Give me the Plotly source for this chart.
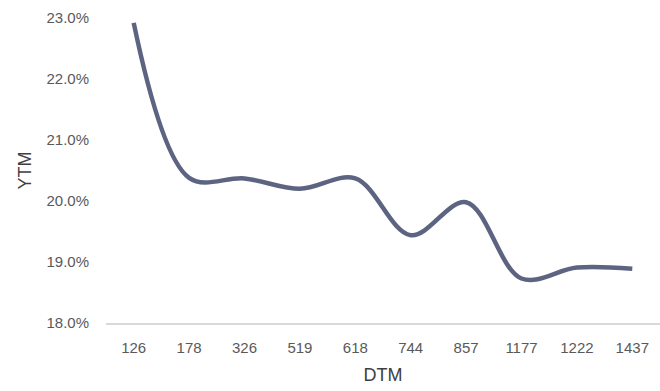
import plotly.graph_objects as go

# Days to maturity (categorical) and yield to maturity (%)
dtm = ["126", "178", "326", "519", "618", "744", "857", "1177", "1222", "1437"]
ytm = [22.92, 20.38, 20.37, 20.20, 20.37, 19.44, 19.98, 18.73, 18.91, 18.89]

y_ticks = [18, 19, 20, 21, 22, 23]
y_tick_labels = ["18.0%", "19.0%", "20.0%", "21.0%", "22.0%", "23.0%"]

font_family = "Liberation Sans, Arial, sans-serif"

fig = go.Figure(
    go.Scatter(
        x=dtm,
        y=ytm,
        mode="lines",
        line=dict(color="#5c6482", width=4.5, shape="spline", smoothing=1.0),
        showlegend=False,
    )
)

fig.update_layout(
    width=660,
    height=391,
    margin=dict(l=106, r=0, t=18, b=68),
    paper_bgcolor="white",
    plot_bgcolor="white",
    font=dict(family=font_family, color="#595959", size=15),
)

fig.update_xaxes(
    type="category",
    range=[-0.5, len(dtm) - 0.5],
    showgrid=False,
    showline=True,
    linecolor="#d9d9d9",
    linewidth=1.5,
    ticks="",
    ticklabelstandoff=10,
    tickfont=dict(size=15, color="#595959"),
    title=dict(text="DTM", font=dict(size=18, color="#404040"), standoff=14),
)

fig.update_yaxes(
    range=[18, 23],
    tickvals=y_ticks,
    ticktext=y_tick_labels,
    showgrid=False,
    zeroline=False,
    showline=False,
    ticks="",
    ticklabelstandoff=16,
    tickfont=dict(size=15, color="#595959"),
    title=dict(text="YTM", font=dict(size=18, color="#404040"), standoff=10),
)

fig.write_html("out.html")
